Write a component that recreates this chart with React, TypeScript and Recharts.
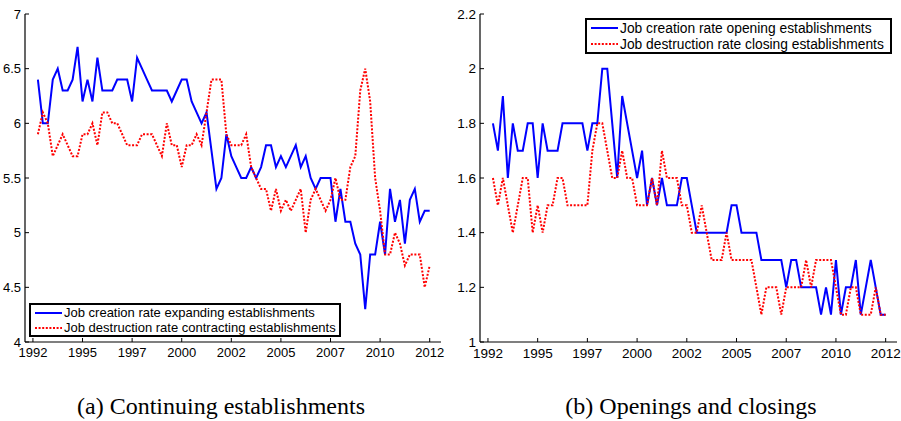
import React from 'react';
import { LineChart, Line, XAxis, YAxis, Legend } from 'recharts';

// Quarterly observations, 1992Q2 .. 2012Q1
const quarters: number[] = Array.from({ length: 80 }, (_, i) => 1992.25 + i / 4);

const yearTicks = [1992, 1994.5, 1997, 1999.5, 2002, 2004.5, 2007, 2009.5, 2012];
const yearLabels = ['1992', '1995', '1997', '2000', '2002', '2005', '2007', '2010', '2012'];

const contTicks = [4, 4.5, 5, 5.5, 6, 6.5, 7];
const contLabels = ['4', '4.5', '5', '5.5', '6', '6.5', '7'];
const openTicks = [1, 1.2, 1.4, 1.6, 1.8, 2, 2.2];
const openLabels = ['1', '1.2', '1.4', '1.6', '1.8', '2', '2.2'];

// (a) continuing establishments, percent
const expandingCreation = [
  6.4, 6.0, 6.0, 6.4, 6.5, 6.3, 6.3, 6.4, 6.7, 6.2,
  6.4, 6.2, 6.6, 6.3, 6.3, 6.3, 6.4, 6.4, 6.4, 6.2,
  6.6, 6.5, 6.4, 6.3, 6.3, 6.3, 6.3, 6.2, 6.3, 6.4,
  6.4, 6.2, 6.1, 6.0, 6.1, 5.75, 5.4, 5.5, 5.9, 5.7,
  5.6, 5.5, 5.5, 5.6, 5.5, 5.6, 5.8, 5.8, 5.6, 5.7,
  5.6, 5.7, 5.8, 5.6, 5.7, 5.5, 5.4, 5.5, 5.5, 5.5,
  5.1, 5.4, 5.1, 5.1, 4.9, 4.8, 4.3, 4.8, 4.8, 5.1,
  4.8, 5.4, 5.1, 5.3, 4.9, 5.3, 5.4, 5.1, 5.2, 5.2,
];
const contractingDestruction = [
  5.9, 6.1, 6.0, 5.7, 5.8, 5.9, 5.8, 5.7, 5.7, 5.9,
  5.9, 6.0, 5.8, 6.1, 6.1, 6.0, 6.0, 5.9, 5.8, 5.8,
  5.8, 5.9, 5.9, 5.9, 5.8, 5.7, 6.0, 5.8, 5.8, 5.6,
  5.8, 5.8, 5.9, 5.8, 6.1, 6.4, 6.4, 6.4, 5.9, 5.8,
  5.8, 5.8, 5.9, 5.6, 5.5, 5.4, 5.4, 5.2, 5.4, 5.2,
  5.3, 5.2, 5.3, 5.4, 5.0, 5.3, 5.4, 5.3, 5.2, 5.3,
  5.5, 5.3, 5.3, 5.6, 5.7, 6.3, 6.5, 6.2, 5.5, 5.2,
  4.8, 4.8, 5.0, 4.9, 4.7, 4.8, 4.8, 4.8, 4.5, 4.7,
];

// (b) openings and closings, percent
const openingCreation = [
  1.8, 1.7, 1.9, 1.6, 1.8, 1.7, 1.7, 1.8, 1.8, 1.6,
  1.8, 1.7, 1.7, 1.7, 1.8, 1.8, 1.8, 1.8, 1.8, 1.7,
  1.8, 1.8, 2.0, 2.0, 1.8, 1.6, 1.9, 1.8, 1.7, 1.6,
  1.7, 1.5, 1.6, 1.5, 1.6, 1.5, 1.5, 1.5, 1.6, 1.6,
  1.5, 1.4, 1.4, 1.4, 1.4, 1.4, 1.4, 1.4, 1.5, 1.5,
  1.4, 1.4, 1.4, 1.4, 1.3, 1.3, 1.3, 1.3, 1.3, 1.2,
  1.3, 1.3, 1.2, 1.2, 1.2, 1.2, 1.1, 1.2, 1.1, 1.3,
  1.1, 1.2, 1.2, 1.3, 1.1, 1.2, 1.3, 1.2, 1.1, 1.1,
];
const closingDestruction = [
  1.6, 1.5, 1.6, 1.5, 1.4, 1.5, 1.6, 1.6, 1.4, 1.5,
  1.4, 1.5, 1.5, 1.6, 1.6, 1.5, 1.5, 1.5, 1.5, 1.5,
  1.7, 1.8, 1.8, 1.7, 1.6, 1.6, 1.7, 1.6, 1.6, 1.5,
  1.5, 1.5, 1.6, 1.5, 1.7, 1.6, 1.6, 1.6, 1.5, 1.5,
  1.4, 1.4, 1.5, 1.4, 1.3, 1.3, 1.3, 1.4, 1.3, 1.3,
  1.3, 1.3, 1.3, 1.2, 1.1, 1.2, 1.2, 1.2, 1.1, 1.2,
  1.2, 1.2, 1.2, 1.3, 1.2, 1.3, 1.3, 1.3, 1.3, 1.2,
  1.1, 1.1, 1.2, 1.2, 1.1, 1.1, 1.1, 1.2, 1.1, 1.1,
];

const SANS = '"Liberation Sans", Arial, Helvetica, sans-serif';
const SERIF = '"Liberation Serif", "Times New Roman", serif';
const INK = '#000';
const BLUE = '#0000ff';
const RED = '#ff0000';
const TICK = 4;
const X_DOMAIN: [number, number] = [1991.6, 2012.57];

type Series = { key: string; name: string; values: number[]; color: string; dash?: string };

const seriesA: Series[] = [
  { key: 'creation', name: 'Job creation rate expanding establishments', values: expandingCreation, color: BLUE },
  { key: 'destruction', name: 'Job destruction rate contracting establishments', values: contractingDestruction, color: RED, dash: '2 1.6' },
];
const seriesB: Series[] = [
  { key: 'creation', name: 'Job creation rate opening establishments', values: openingCreation, color: BLUE },
  { key: 'destruction', name: 'Job destruction rate closing establishments', values: closingDestruction, color: RED, dash: '2 1.6' },
];

const buildRows = (series: Series[]) =>
  quarters.map((q, i) => {
    const row: Record<string, number> = { q };
    series.forEach((s) => (row[s.key] = s.values[i]));
    return row;
  });

function labelFor(values: number[], labels: string[], v: number) {
  const i = values.findIndex((t) => Math.abs(t - v) < 1e-6);
  return i >= 0 ? labels[i] : String(v);
}

// tick renderers: MATLAB-style inward ticks on every side of the box
const bottomTick = (fontSize: number, gap: number) => (props: any) => {
  const { x, y, payload } = props;
  const axisY = y - gap;
  return (
    <g>
      <line x1={x} x2={x} y1={axisY} y2={axisY - TICK} stroke={INK} />
      <text x={x} y={y} dy="0.71em" textAnchor="middle" fontSize={fontSize} fontFamily={SANS} fill={INK}>
        {labelFor(yearTicks, yearLabels, payload.value)}
      </text>
    </g>
  );
};

const leftTick = (values: number[], labels: string[], fontSize: number, gap: number) => (props: any) => {
  const { x, y, payload } = props;
  const axisX = x + gap;
  return (
    <g>
      <line x1={axisX} x2={axisX + TICK} y1={y} y2={y} stroke={INK} />
      <text x={x} y={y} dy="0.355em" textAnchor="end" fontSize={fontSize} fontFamily={SANS} fill={INK}>
        {labelFor(values, labels, payload.value)}
      </text>
    </g>
  );
};

const topTick = (props: any) => {
  const { x, y } = props;
  return <line x1={x} x2={x} y1={y} y2={y + TICK} stroke={INK} />;
};

const rightTick = (props: any) => {
  const { x, y } = props;
  return <line x1={x} x2={x - TICK} y1={y} y2={y} stroke={INK} />;
};

const legendBox = (series: Series[], fontSize: number, rowHeight: number, width: number) => () => (
  <div
    style={{
      boxSizing: 'border-box',
      width,
      border: '2px solid #000',
      background: '#fff',
      fontFamily: SANS,
      fontSize,
      color: INK,
    }}
  >
    {series.map((s) => (
      <div key={s.key} style={{ display: 'flex', alignItems: 'center', height: rowHeight, whiteSpace: 'nowrap' }}>
        <svg width={27} height={6} style={{ marginLeft: 4, marginRight: 2, flex: 'none' }}>
          <line x1={0} x2={27} y1={3} y2={3} stroke={s.color} strokeWidth={2} strokeDasharray={s.dash} />
        </svg>
        <span>{s.name}</span>
      </div>
    ))}
  </div>
);

type PanelProps = {
  left: number;
  width: number;
  rightMargin: number;
  yWidth: number;
  yDomain: [number, number];
  yTicks: number[];
  yLabels: string[];
  series: Series[];
  fontSize: number;
  legend: { left: number; top: number; width: number; fontSize: number; row: number };
};

function Panel(p: PanelProps) {
  const data = buildRows(p.series);
  return (
    <div style={{ position: 'absolute', left: p.left, top: 0 }}>
      <LineChart width={p.width} height={370} data={data} margin={{ top: 14, right: p.rightMargin, bottom: 0, left: 0 }}>
        <XAxis
          dataKey="q"
          type="number"
          domain={X_DOMAIN}
          allowDataOverflow
          ticks={yearTicks}
          interval={0}
          height={28}
          tickSize={0}
          tickMargin={6}
          axisLine={{ stroke: INK, strokeWidth: 1.2 }}
          tick={bottomTick(p.fontSize, 6)}
        />
        <XAxis
          xAxisId="top"
          orientation="top"
          dataKey="q"
          type="number"
          domain={X_DOMAIN}
          allowDataOverflow
          ticks={yearTicks}
          interval={0}
          height={0}
          tickSize={0}
          tickMargin={0}
          axisLine={{ stroke: INK, strokeWidth: 1.2 }}
          tick={topTick}
        />
        <YAxis
          type="number"
          domain={p.yDomain}
          allowDataOverflow
          ticks={p.yTicks}
          interval={0}
          width={p.yWidth}
          tickSize={0}
          tickMargin={4}
          axisLine={{ stroke: INK, strokeWidth: 1.2 }}
          tick={leftTick(p.yTicks, p.yLabels, p.fontSize, 4)}
        />
        <YAxis
          yAxisId="right"
          orientation="right"
          type="number"
          domain={p.yDomain}
          allowDataOverflow
          ticks={p.yTicks}
          interval={0}
          width={0}
          tickSize={0}
          tickMargin={0}
          axisLine={{ stroke: INK, strokeWidth: 1.2 }}
          tick={rightTick}
        />
        {p.series.map((s) => (
          <Line
            key={s.key}
            type="linear"
            dataKey={s.key}
            name={s.name}
            stroke={s.color}
            strokeWidth={2}
            strokeDasharray={s.dash}
            dot={false}
            activeDot={false}
            isAnimationActive={false}
          />
        ))}
        <Legend
          layout="vertical"
          align="center"
          verticalAlign="middle"
          wrapperStyle={{ left: p.legend.left, top: p.legend.top, width: p.legend.width, right: 'auto', bottom: 'auto' }}
          content={legendBox(p.series, p.legend.fontSize, p.legend.row, p.legend.width)}
        />
      </LineChart>
    </div>
  );
}

const caption: React.CSSProperties = {
  position: 'absolute',
  top: 392,
  width: 400,
  textAlign: 'center',
  fontFamily: SERIF,
  fontSize: 24,
  color: INK,
  lineHeight: '28px',
};

export default function App() {
  return (
    <div style={{ position: 'absolute', left: 0, top: 0, width: 901, height: 421, background: '#fff', overflow: 'hidden' }}>
      <Panel
        left={0}
        width={450}
        rightMargin={9}
        yWidth={25}
        yDomain={[4, 7]}
        yTicks={contTicks}
        yLabels={contLabels}
        series={seriesA}
        fontSize={13}
        legend={{ left: 29, top: 303, width: 312, fontSize: 13, row: 15 }}
      />
      <Panel
        left={450}
        width={451}
        rightMargin={4}
        yWidth={30}
        yDomain={[1, 2.2]}
        yTicks={openTicks}
        yLabels={openLabels}
        series={seriesB}
        fontSize={13.5}
        legend={{ left: 135, top: 18, width: 307, fontSize: 13.8, row: 16 }}
      />
      <div style={{ ...caption, left: 21 }}>(a) Continuing establishments</div>
      <div style={{ ...caption, left: 491 }}>(b) Openings and closings</div>
    </div>
  );
}
